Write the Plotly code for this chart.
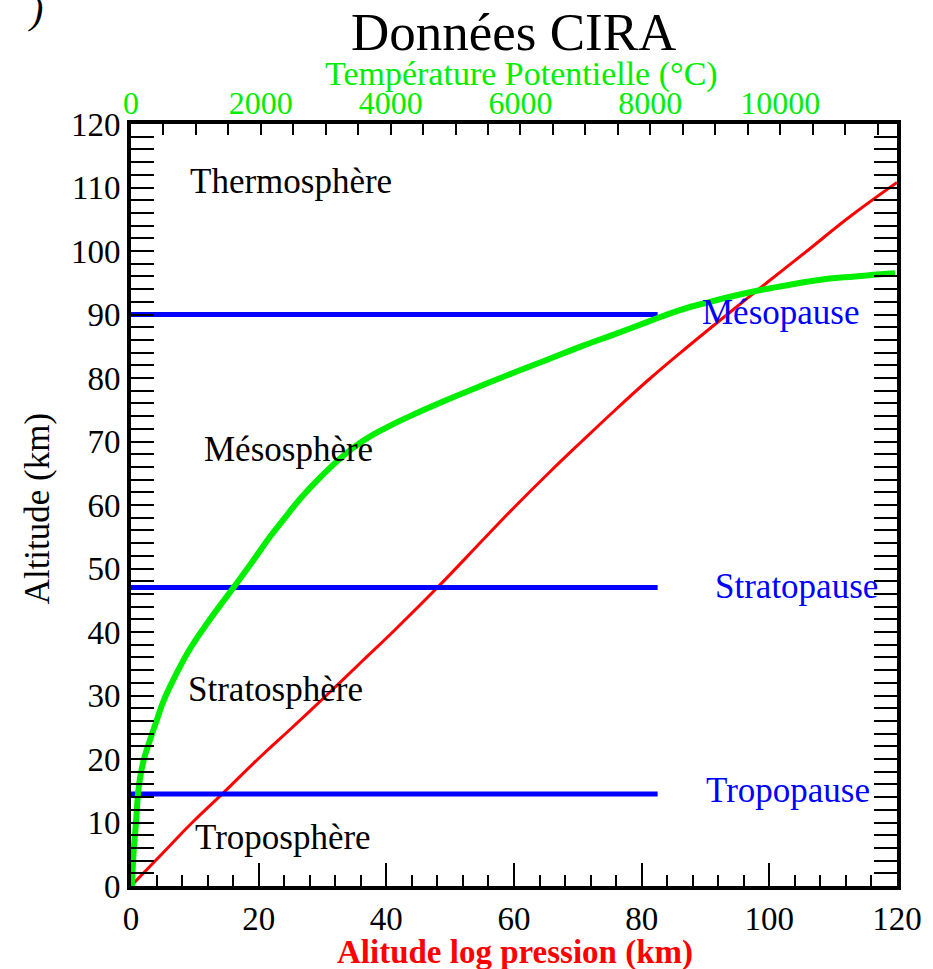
import plotly.graph_objects as go

# CIRA reference atmosphere profiles
# log-pressure altitude (km) against geometric altitude (km)
alt_logp = [0, 5, 10, 14.5, 20, 25, 30, 35, 40, 47, 55, 60, 65, 70, 75, 80, 85, 90, 95, 100, 105.4, 110.8]
logp_km = [0, 4.8, 9.6, 14.3, 19.9, 25.3, 30.6, 35.8, 41.0, 48.0, 55.6, 60.4, 65.4, 70.6, 75.9, 81.4,
           87.3, 93.4, 99.6, 105.9, 112.6, 120]

# potential temperature (°C) against geometric altitude (km)
alt_theta = [0, 5, 10, 14.5, 17, 20, 23, 26, 29.3, 33, 37.6, 42, 46.9, 51, 55, 58, 60, 62, 64, 66, 68,
             70, 72, 74, 76.5, 78.5, 80.8, 82.8, 84.9, 86.8, 88.8, 90.7, 92, 93.5, 94.5, 95.4, 96, 96.5]
theta_c = [15, 38, 77, 108, 139, 200, 293, 393, 508, 678, 924, 1217, 1571, 1864, 2141, 2372, 2526, 2696,
           2881, 3081, 3297, 3559, 3897, 4298, 4853, 5330, 5885, 6393, 6917, 7425, 7949, 8457, 8919,
           9536, 10044, 10568, 11153, 11769]

# layer boundaries (km)
pause_names = ["Tropopause", "Stratopause", "Mésopause"]
pause_alt = [14.5, 47, 90]
pause_extent = [0, 82.5]
pause_label_x = [102.9, 104.3, 101.7]
pause_label_y = [15.1, 47.2, 90.3]

# layer names
layer_names = ["Troposphère", "Stratosphère", "Mésosphère", "Thermosphère"]
layer_x = [23.8, 22.6, 24.6, 25.1]
layer_y = [7.6, 30.9, 68.7, 110.9]

theta_ticks = [0, 2000, 4000, 6000, 8000, 10000]
theta_range = [0, 11800]

SERIF = "Liberation Serif, Times New Roman, serif"
GREEN = "#00ee00"
BLUE = "#0000ff"
RED = "#ff0000"

fig = go.Figure()

fig.add_trace(go.Scatter(x=logp_km, y=alt_logp, mode="lines",
                         line=dict(color=RED, width=3, shape="spline", smoothing=1.3),
                         xaxis="x", yaxis="y", showlegend=False, hoverinfo="skip"))
fig.add_trace(go.Scatter(x=theta_c, y=alt_theta, mode="lines",
                         line=dict(color=GREEN, width=6, shape="spline", smoothing=1.3),
                         xaxis="x2", yaxis="y", showlegend=False, hoverinfo="skip"))
for a in pause_alt:
    fig.add_trace(go.Scatter(x=pause_extent, y=[a, a], mode="lines", line=dict(color=BLUE, width=5),
                             xaxis="x", yaxis="y", showlegend=False, hoverinfo="skip"))


def label(text, x, y, size, color, xref="x", yref="y", **kw):
    return dict(x=x, y=y, xref=xref, yref=yref, text=text, showarrow=False,
                xanchor="center", yanchor="middle",
                font=dict(family=SERIF, size=size, color=color), **kw)


annotations = []
for name, x, y in zip(pause_names, pause_label_x, pause_label_y):
    annotations.append(label(name, x, y, 35, BLUE))
for name, x, y in zip(layer_names, layer_x, layer_y):
    annotations.append(label(name, x, y, 35, "black"))

annotations += [
    label("Données CIRA", 0.499, 1.121, 53, "black", "paper", "paper"),
    label("Température Potentielle (°C)", 0.51, 1.066, 34, GREEN, "paper", "paper"),
    label("<b>Alitude log pression (km)</b>", 0.501, -0.087, 33, RED, "paper", "paper"),
    label("Altitude (km)", -0.122, 0.495, 35, "black", "paper", "paper", textangle=-90),
    label("<i>)</i>", -0.125, 1.150, 40, "black", "paper", "paper"),
]

axis_common = dict(showgrid=False, zeroline=False, ticks="inside", tickcolor="black",
                   tickfont=dict(family=SERIF, size=33, color="black"))

fig.update_layout(
    width=933, height=969,
    margin=dict(l=131, r=36, t=124, b=83),
    paper_bgcolor="white", plot_bgcolor="white",
    showlegend=False,
    annotations=annotations,
    xaxis=dict(range=[0, 120], dtick=20, tick0=0, ticklen=23, tickwidth=2,
               minor=dict(dtick=4, tick0=0, ticklen=11, tickwidth=2, ticks="inside", tickcolor="black"),
               showline=True, linewidth=4, linecolor="black", mirror=True, **axis_common),
    xaxis2=dict(range=theta_range, overlaying="x", side="top", tickvals=theta_ticks,
                ticktext=[str(t) for t in theta_ticks],
                ticklen=11, tickwidth=2, showline=False, ticklabelstandoff=3,
                minor=dict(dtick=500, tick0=0, ticklen=11, tickwidth=2, ticks="inside", tickcolor="black"),
                showgrid=False, zeroline=False, ticks="inside", tickcolor="black",
                tickfont=dict(family=SERIF, size=32, color=GREEN)),
    yaxis=dict(range=[0, 120], dtick=10, tick0=0, ticklen=23, tickwidth=2,
               minor=dict(dtick=2, tick0=0, ticklen=11, tickwidth=2, ticks="inside", tickcolor="black"),
               showline=True, linewidth=4, linecolor="black", mirror="allticks", **axis_common),
)

fig.write_html("out.html")
